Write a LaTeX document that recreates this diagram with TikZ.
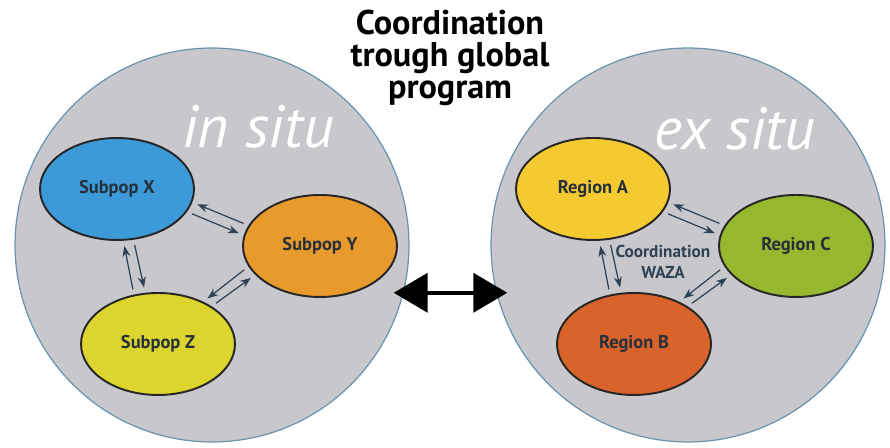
\documentclass[tikz,border=0pt]{standalone}
\usepackage{fontspec}
\setmainfont{PT Sans}
\usetikzlibrary{shapes.geometric,arrows.meta}
\definecolor{sitefill}{HTML}{C8C8CC}
\definecolor{siteline}{HTML}{6C93AC}
\definecolor{popblue}{HTML}{3C9AD8}
\definecolor{poporange}{HTML}{E89A2C}
\definecolor{popyellow}{HTML}{DCD52E}
\definecolor{regyellow}{HTML}{F4CA30}
\definecolor{reggreen}{HTML}{96B82E}
\definecolor{regred}{HTML}{D9632A}
\definecolor{linkcol}{HTML}{2E4256}
\definecolor{popfont}{HTML}{26303A}
\begin{document}
\begin{tikzpicture}[>=Stealth,x=0.02cm,y=0.02cm,
	site/.style={circle,draw=siteline,line width=0.7pt,fill=sitefill,minimum size=7.88cm,inner sep=0pt},
	pop/.style={ellipse,draw=black!85,line width=1.1pt,minimum width=3.08cm,minimum height=2.04cm,inner sep=0pt,text=popfont,font=\bfseries\fontsize{10.5}{11}\selectfont},
	link/.style={->,draw=linkcol,line width=0.7pt,shorten >=3pt,shorten <=3pt},
	sitelabel/.style={text=white,font=\itshape\fontsize{34}{34}\selectfont}]
	\useasboundingbox (0,0) rectangle (890,448);
	% the two circles
	\node[site] (insitu) at (212,203) {};
	\node[site] (exsitu) at (688,203) {};
	\node[sitelabel] (lblin) at (258,321) {in situ};
	\node[sitelabel] (lblex) at (735,319) {ex situ};
	\node[align=center,font=\bfseries\fontsize{19.5}{18.2}\selectfont] (title) at (450,390) {Coordination\\trough global\\program};
	\draw[{Triangle[length=0.68cm,width=0.78cm]}-{Triangle[length=0.68cm,width=0.78cm]},line width=2.3pt,shorten <=-0.2cm,shorten >=-0.22cm] (insitu.-14) -- (exsitu.194);
	% in situ
	\node[pop,fill=popblue] (X) at (117,259) {Subpop X};
	\node[pop,fill=poporange] (Y) at (320,202) {Subpop Y};
	\node[pop,fill=popyellow] (Z) at (158,104) {Subpop Z};
	\draw[link] (Y.164) -- (X.-10);
	\draw[link] (X.-18) -- (Y.172);
	\draw[link] (Z.116) -- (X.-83);
	\draw[link] (X.-72) -- (Z.104);
	\draw[link] (Y.196) -- (Z.43);
	\draw[link] (Z.35) -- (Y.204);
	% ex situ
	\node[pop,fill=regyellow] (A) at (593,259) {Region A};
	\node[pop,fill=reggreen] (C) at (796,202) {Region C};
	\node[pop,fill=regred] (B) at (634,104) {Region B};
	\draw[link] (C.164) -- (A.-10);
	\draw[link] (A.-18) -- (C.172);
	\draw[link] (B.116) -- (A.-83);
	\draw[link] (A.-72) -- (B.104);
	\draw[link] (C.196) -- (B.43);
	\draw[link] (B.35) -- (C.204);
	\node[align=center,text=linkcol,font=\bfseries\fontsize{9.8}{11.5}\selectfont] (waza) at (663,186) {Coordination\\WAZA};
\end{tikzpicture}
\end{document}
